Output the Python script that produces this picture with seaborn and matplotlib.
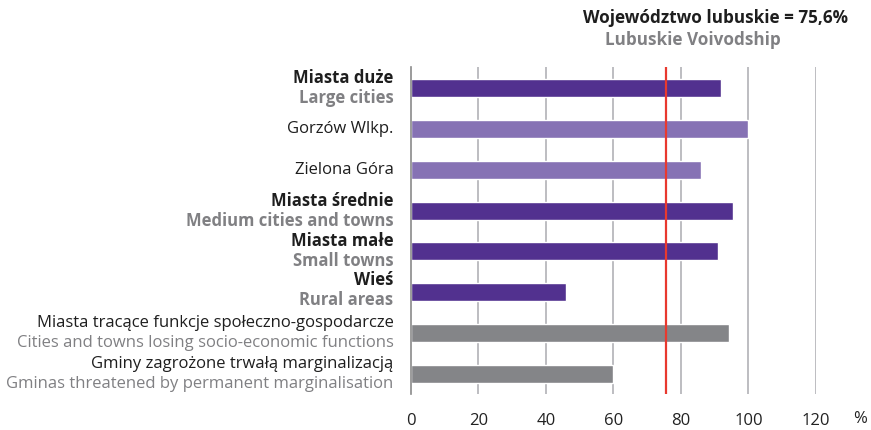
import matplotlib
matplotlib.use("Agg")
import matplotlib.pyplot as plt
import matplotlib.transforms as mtransforms
import seaborn as sns
import pandas as pd

# Share of population, per settlement category (%)
categories = [
    "Miasta duże", "Gorzów Wlkp.", "Zielona Góra", "Miasta średnie",
    "Miasta małe", "Wieś", "Miasta tracące funkcje społeczno-gospodarcze",
    "Gminy zagrożone trwałą marginalizacją",
]
subtitles = [
    "Large cities", None, None, "Medium cities and towns",
    "Small towns", "Rural areas", "Cities and towns losing socio-economic functions",
    "Gminas threatened by permanent marginalisation",
]
values = [91.9, 100.0, 86.0, 95.5, 91.0, 46.0, 94.3, 60.0]
groups = ["main", "city", "city", "main", "main", "main", "special", "special"]
regional_value = 75.6
x_ticks = [0, 20, 40, 60, 80, 100, 120]

group_colors = {"main": "#52318f", "city": "#8672b4", "special": "#848588"}
group_bold = {"main": True, "city": False, "special": False}

sns.set_theme(style="white")
plt.rcParams["font.family"] = ["Open Sans", "DejaVu Sans"]

df = pd.DataFrame({"category": categories, "value": values})
palette = [group_colors[g] for g in groups]

fig = plt.figure(figsize=(8.71, 4.30), dpi=100)
ax = fig.add_axes([410.8 / 871, 1 - 394 / 430, (816 - 410.8) / 871, (394 - 67) / 430])

sns.barplot(data=df, x="value", y="category", hue="category", palette=palette,
            order=categories, hue_order=categories, legend=False, width=0.44,
            saturation=1, ax=ax, orient="h")

ax.set_xlim(0, 120)
ax.set_ylim(7.49, -0.514)
for xv in x_ticks[1:]:
    ax.axvline(xv, color="#b8b8bc", lw=1.3, zorder=0)
ax.axvline(regional_value, color="#e8392f", lw=1.6, zorder=5)

for side in ["top", "right", "bottom"]:
    ax.spines[side].set_visible(False)
ax.spines["left"].set_color("#8a8a8a")
ax.spines["left"].set_linewidth(1.2)

ax.set_xticks(x_ticks)
ax.set_xticklabels([str(t) for t in x_ticks], fontsize=12, color="#222222")
ax.tick_params(axis="x", length=0, pad=14)
ax.set_yticks([])
ax.set_xlabel("")
ax.set_ylabel("")

trans = mtransforms.blended_transform_factory(ax.transAxes, ax.transData)
fs = 12
lx = -0.043
for i, (cat, sub, grp) in enumerate(zip(categories, subtitles, groups)):
    weight = "bold" if group_bold[grp] else "normal"
    if sub is None:
        ax.text(lx, i, cat, transform=trans, ha="right", va="center",
                fontsize=fs, color="#1e1e1e", fontweight=weight)
    else:
        dy = 0.245
        yc = i - 0.05 if cat == "Wieś" else i
        ax.text(lx, yc - dy, cat, transform=trans, ha="right", va="center",
                fontsize=fs, color="#1e1e1e", fontweight=weight)
        ax.text(lx, yc + dy, sub, transform=trans, ha="right", va="center",
                fontsize=fs, color="#808083", fontweight=weight)

fig.text(848 / 871, 1 - 18 / 430, "Województwo lubuskie = 75,6%", ha="right",
         va="center", fontsize=12.3, fontweight="bold", color="#1e1e1e")
fig.text(605 / 871, 1 - 40 / 430, "Lubuskie Voivodship", ha="left",
         va="center", fontsize=12.3, fontweight="bold", color="#808083")
fig.text(860 / 871, 1 - 419 / 430, "%", ha="center", va="center",
         fontsize=12, color="#222222")

fig.savefig("out.png", dpi=100)
